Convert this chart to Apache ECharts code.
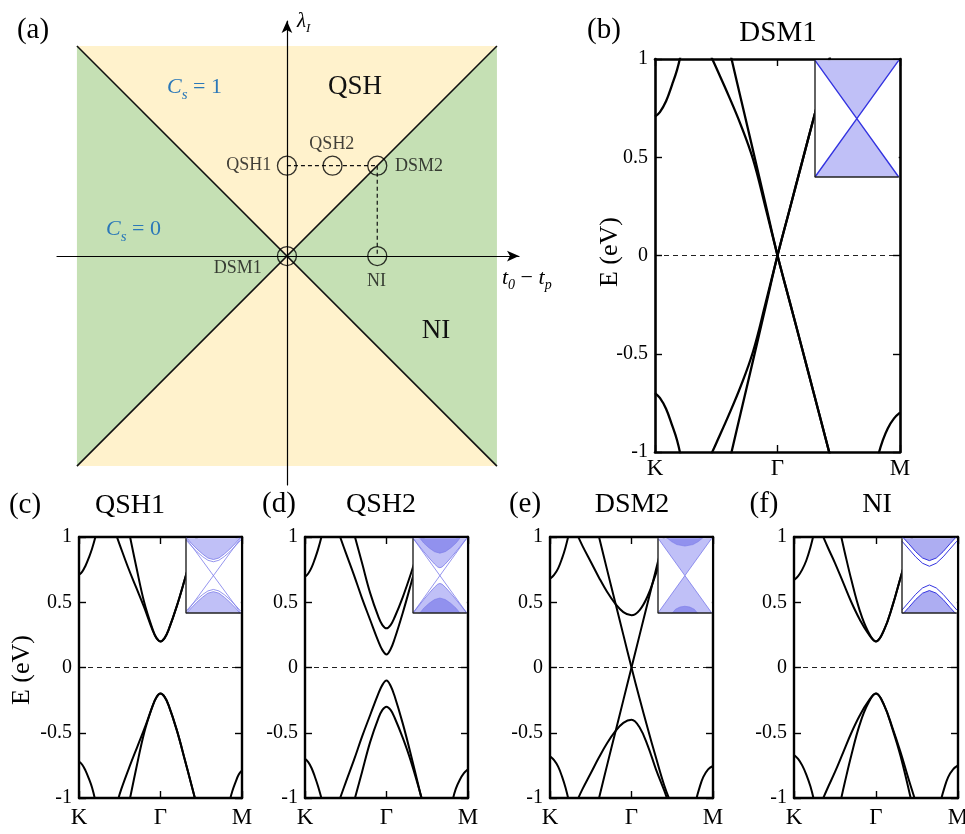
<!DOCTYPE html>
<html><head><meta charset="utf-8">
<script src="https://cdn.jsdelivr.net/npm/echarts@6/dist/echarts.min.js"></script>
<style>html,body{margin:0;padding:0;background:#fff}#chart{width:965px;height:834px}</style>
</head><body><div id="chart"></div>
<script>
const FONT = "'Liberation Serif','Times New Roman',Times,serif";

// ---------------- Panel (a): phase diagram data ----------------
const regionTop = [[-1, 1], [1, 1], [0, 0]];
const regionBottom = [[-1, -1], [1, -1], [0, 0]];
const regionLeft = [[-1, 1], [-1, -1], [0, 0]];
const regionRight = [[1, 1], [1, -1], [0, 0]];
const boundary1 = [[-1, 1], [1, -1]];
const boundary2 = [[-1, -1], [1, 1]];
const phaseNames = ['DSM1', 'QSH1', 'QSH2', 'DSM2', 'NI'];
const phaseU = [0, 0, 0.217, 0.43, 0.43];
const phaseV = [0, 0.43, 0.43, 0.43, 0];
const pathQSH = [[0, 0.43], [0.43, 0.43]];
const pathNI = [[0.43, 0.43], [0.43, 0]];

// ---------------- Band-structure axes ----------------
const kLabels = ['K', 'Γ', 'M'];
const eTickLabels = ['-1', '-0.5', '0', '0.5', '1'];

// (b) DSM1
const dsm1_kTop = [[0,0.707],[0.04,0.73],[0.09,0.785],[0.14,0.87],[0.18,0.945],[0.21,1.02]];
const dsm1_kBot = [[0,-0.70],[0.04,-0.725],[0.09,-0.78],[0.14,-0.865],[0.18,-0.94],[0.21,-1.02]];
const dsm1_mBot = [[1.82,-1.02],[1.86,-0.94],[1.9,-0.88],[1.95,-0.83],[2,-0.80]];
const dsm1_c1 = [[0.46,1.01],[0.5,0.955],[0.6,0.815],[0.7,0.665],[0.8,0.49],[0.9,0.25],[1,0],[1.1,-0.236],[1.2,-0.472],[1.3,-0.71],[1.43,-1.02]];
const dsm1_c2 = [[0.61,1.04],[0.7,0.8],[0.8,0.535],[0.9,0.268],[1,0],[1.1,-0.236],[1.2,-0.472],[1.3,-0.71],[1.43,-1.02]];
const dsm1_v1 = [[0.46,-1.01],[0.5,-0.955],[0.6,-0.815],[0.7,-0.665],[0.8,-0.49],[0.9,-0.25],[1,0],[1.1,0.237],[1.2,0.474],[1.3,0.71],[1.45,1.06]];
const dsm1_v2 = [[0.61,-1.04],[0.7,-0.8],[0.8,-0.535],[0.9,-0.268],[1,0],[1.1,0.237],[1.2,0.474],[1.3,0.71],[1.45,1.06]];
const dsm1_insetTop = [[-1,1],[0,0],[1,1]];
const dsm1_insetBot = [[-1,-1],[0,0],[1,-1]];

// (c) QSH1
const qsh1_kTop = [[0,0.71],[0.04,0.735],[0.08,0.78],[0.12,0.84],[0.16,0.91],[0.21,1.02]];
const qsh1_kBot = [[0,-0.72],[0.04,-0.745],[0.08,-0.79],[0.12,-0.85],[0.16,-0.92],[0.2,-1.02]];
const qsh1_mBot = [[1.85,-1.02],[1.88,-0.95],[1.92,-0.88],[1.96,-0.82],[2,-0.79]];
const qsh1_c1 = [[0.46,1.01],[0.5,0.94],[0.6,0.77],[0.7,0.615],[0.8,0.46],[0.9,0.29],[0.95,0.225],[1,0.2],[1.05,0.225],[1.1,0.29],[1.2,0.47],[1.3,0.68],[1.4,0.9],[1.46,1.03]];
const qsh1_c2 = [[0.62,1.02],[0.7,0.78],[0.8,0.5],[0.9,0.3],[0.95,0.228],[1,0.2],[1.05,0.225],[1.1,0.29],[1.2,0.47],[1.3,0.68],[1.4,0.9],[1.46,1.03]];
const qsh1_v1 = [[0.48,-1.01],[0.52,-0.93],[0.62,-0.76],[0.72,-0.6],[0.82,-0.44],[0.9,-0.3],[0.95,-0.23],[1,-0.2],[1.05,-0.225],[1.1,-0.29],[1.2,-0.48],[1.3,-0.71],[1.43,-1.02]];
const qsh1_v2 = [[0.62,-1.02],[0.7,-0.78],[0.8,-0.5],[0.9,-0.3],[0.95,-0.228],[1,-0.2],[1.05,-0.225],[1.1,-0.29],[1.2,-0.48],[1.3,-0.71],[1.43,-1.02]];
const qsh1_insetBulkTop = [[-1,1.03],[-0.8,0.86],[-0.6,0.71],[-0.4,0.58],[-0.2,0.47],[0,0.43],[0.2,0.47],[0.4,0.58],[0.6,0.71],[0.8,0.86],[1,1.03]];
const qsh1_insetBulkBot = [[-1,-1.03],[-0.8,-0.86],[-0.6,-0.71],[-0.4,-0.58],[-0.2,-0.47],[0,-0.43],[0.2,-0.47],[0.4,-0.58],[0.6,-0.71],[0.8,-0.86],[1,-1.03]];
const qsh1_insetEdgeTop = [[-1,0.95],[-0.8,0.79],[-0.6,0.64],[-0.4,0.51],[-0.2,0.41],[0,0.37],[0.2,0.41],[0.4,0.51],[0.6,0.64],[0.8,0.79],[1,0.95]];
const qsh1_insetEdgeBot = [[-1,-0.95],[-0.8,-0.79],[-0.6,-0.64],[-0.4,-0.51],[-0.2,-0.41],[0,-0.37],[0.2,-0.41],[0.4,-0.51],[0.6,-0.64],[0.8,-0.79],[1,-0.95]];
const insetCross1 = [[-1,1],[1,-1]];
const insetCross2 = [[-1,-1],[1,1]];

// (d) QSH2
const qsh2_kTop = [[0,0.695],[0.04,0.72],[0.08,0.765],[0.12,0.83],[0.16,0.905],[0.21,1.02]];
const qsh2_kBot = [[0,-0.70],[0.04,-0.725],[0.08,-0.77],[0.12,-0.835],[0.16,-0.91],[0.21,-1.02]];
const qsh2_mBot = [[1.81,-1.02],[1.85,-0.93],[1.9,-0.86],[1.95,-0.81],[2,-0.78]];
const qsh2_c1 = [[0.42,1.02],[0.5,0.88],[0.6,0.71],[0.7,0.53],[0.8,0.364],[0.9,0.2],[0.95,0.133],[1,0.1],[1.05,0.14],[1.1,0.22],[1.2,0.42],[1.3,0.64],[1.4,0.87],[1.5,1.08]];
const qsh2_c2 = [[0.6,1.03],[0.7,0.8],[0.8,0.57],[0.9,0.39],[0.95,0.325],[1,0.3],[1.05,0.325],[1.1,0.385],[1.2,0.54],[1.3,0.72],[1.4,0.92],[1.5,1.12]];
const qsh2_v1 = [[0.42,-1.02],[0.5,-0.88],[0.6,-0.71],[0.7,-0.53],[0.8,-0.364],[0.9,-0.2],[0.95,-0.133],[1,-0.1],[1.05,-0.14],[1.1,-0.22],[1.2,-0.43],[1.3,-0.67],[1.44,-1.03]];
const qsh2_v2 = [[0.6,-1.03],[0.7,-0.8],[0.8,-0.57],[0.9,-0.39],[0.95,-0.325],[1,-0.3],[1.05,-0.325],[1.1,-0.385],[1.2,-0.54],[1.3,-0.72],[1.44,-1.02]];
const qsh2_insetOuterTop = [[-1,1.0],[-0.8,0.82],[-0.6,0.64],[-0.4,0.47],[-0.2,0.31],[-0.08,0.23],[0,0.21],[0.08,0.23],[0.2,0.31],[0.4,0.47],[0.6,0.64],[0.8,0.82],[1,1.0]];
const qsh2_insetOuterBot = [[-1,-1.0],[-0.8,-0.82],[-0.6,-0.64],[-0.4,-0.47],[-0.2,-0.31],[-0.08,-0.23],[0,-0.21],[0.08,-0.23],[0.2,-0.31],[0.4,-0.47],[0.6,-0.64],[0.8,-0.82],[1,-1.0]];
const qsh2_insetInnerTop = [[-0.8,1.05],[-0.6,0.87],[-0.4,0.74],[-0.2,0.64],[0,0.6],[0.2,0.64],[0.4,0.74],[0.6,0.87],[0.8,1.05]];
const qsh2_insetInnerBot = [[-0.8,-1.05],[-0.6,-0.87],[-0.4,-0.74],[-0.2,-0.64],[0,-0.6],[0.2,-0.64],[0.4,-0.74],[0.6,-0.87],[0.8,-1.05]];

// (e) DSM2
const dsm2_kTop = [[0,0.68],[0.05,0.71],[0.1,0.76],[0.15,0.84],[0.19,0.92],[0.23,1.02]];
const dsm2_kBot = [[0,-0.68],[0.05,-0.71],[0.1,-0.76],[0.15,-0.84],[0.19,-0.92],[0.23,-1.02]];
const dsm2_mBot = [[1.79,-1.02],[1.83,-0.93],[1.88,-0.84],[1.94,-0.78],[2,-0.755]];
const dsm2_c = [[0.34,1.01],[0.4,0.93],[0.5,0.81],[0.6,0.69],[0.7,0.58],[0.8,0.49],[0.9,0.424],[1,0.4],[1.1,0.44],[1.2,0.55],[1.3,0.72],[1.4,0.9],[1.47,1.04]];
const dsm2_d1 = [[0.59,1.03],[0.7,0.75],[0.8,0.5],[0.9,0.25],[1,0],[1.1,-0.24],[1.2,-0.47],[1.3,-0.69],[1.4,-0.9],[1.49,-1.05]];
const dsm2_d2 = [[0.59,-1.03],[0.7,-0.75],[0.8,-0.5],[0.9,-0.25],[1,0],[1.1,0.25],[1.2,0.5],[1.3,0.75],[1.42,1.05]];
const dsm2_v = [[0.34,-1.01],[0.4,-0.93],[0.5,-0.81],[0.6,-0.69],[0.7,-0.58],[0.8,-0.49],[0.9,-0.424],[1,-0.4],[1.1,-0.46],[1.2,-0.6],[1.3,-0.78],[1.4,-0.94],[1.45,-1.03]];
const dsm2_insetOuterTop = [[-1,1],[0,0],[1,1]];
const dsm2_insetOuterBot = [[-1,-1],[0,0],[1,-1]];
const dsm2_insetInnerTop = [[-0.7,1.03],[-0.5,0.91],[-0.3,0.83],[0,0.79],[0.3,0.83],[0.5,0.91],[0.7,1.03]];
const dsm2_insetInnerBot = [[-0.5,-1.03],[-0.35,-0.9],[-0.18,-0.84],[0,-0.82],[0.18,-0.84],[0.35,-0.9],[0.5,-1.03]];

// (f) NI
const ni_kTop = [[0,0.67],[0.05,0.7],[0.1,0.75],[0.15,0.82],[0.2,0.92],[0.24,1.02]];
const ni_kBot = [[0,-0.67],[0.05,-0.7],[0.1,-0.75],[0.15,-0.82],[0.2,-0.91],[0.245,-1.02]];
const ni_mBot = [[1.79,-1.02],[1.83,-0.93],[1.88,-0.84],[1.94,-0.78],[2,-0.75]];
const ni_c1 = [[0.35,1.01],[0.42,0.91],[0.5,0.8],[0.6,0.65],[0.7,0.5],[0.8,0.37],[0.9,0.265],[1,0.2],[1.1,0.29],[1.2,0.47],[1.3,0.69],[1.4,0.91],[1.46,1.04]];
const ni_c2 = [[0.57,1.02],[0.62,0.88],[0.7,0.67],[0.8,0.44],[0.9,0.28],[1,0.2],[1.1,0.29],[1.2,0.47],[1.3,0.69],[1.4,0.91],[1.46,1.04]];
const ni_v1 = [[0.35,-1.01],[0.42,-0.91],[0.5,-0.8],[0.6,-0.65],[0.7,-0.5],[0.8,-0.37],[0.9,-0.265],[1,-0.2],[1.1,-0.29],[1.2,-0.47],[1.3,-0.68],[1.43,-1.02]];
const ni_v2 = [[0.57,-1.02],[0.62,-0.88],[0.7,-0.67],[0.8,-0.44],[0.9,-0.28],[1,-0.2],[1.1,-0.29],[1.2,-0.46],[1.3,-0.65],[1.4,-0.86],[1.48,-1.02]];
const ni_insetBulkTop = [[-1,1.05],[-0.75,0.85],[-0.5,0.64],[-0.25,0.47],[0,0.4],[0.25,0.47],[0.5,0.64],[0.75,0.85],[1,1.05]];
const ni_insetBulkBot = [[-1,-1.05],[-0.75,-0.85],[-0.5,-0.64],[-0.25,-0.47],[0,-0.4],[0.25,-0.47],[0.5,-0.64],[0.75,-0.85],[1,-1.05]];
const ni_insetEdgeTop = [[-1,0.92],[-0.75,0.71],[-0.5,0.5],[-0.25,0.33],[0,0.25],[0.25,0.33],[0.5,0.5],[0.75,0.71],[1,0.92]];
const ni_insetEdgeBot = [[-1,-0.92],[-0.75,-0.71],[-0.5,-0.5],[-0.25,-0.33],[0,-0.25],[0.25,-0.33],[0.5,-0.5],[0.75,-0.71],[1,-0.92]];

// ---------------- Styles ----------------
const YELLOW = '#fff2cc', GREEN = '#c5e0b4', BLUE_TXT = '#2b78b8';
const FILL_L = 'rgba(150,150,242,0.6)', FILL_D = 'rgba(105,105,232,0.55)', EDGE = '#3434e0', EDGE_L = '#7a7aea';

const grids = [], xAxes = [], yAxes = [], series = [], graphics = [];

// ---------------- Panel (a) ----------------
grids.push({left: 57, top: 21, width: 462, height: 464, outerBoundsMode: 'none'});
const arrowAxis = {show: true, onZero: true, symbol: ['none', 'arrow'], symbolSize: [8, 12], lineStyle: {color: '#000', width: 1.2}};
xAxes.push({gridIndex: 0, type: 'value', min: -1.095, max: 1.105, z: 5, axisLine: arrowAxis, axisTick: {show: false}, axisLabel: {show: false}, splitLine: {show: false}});
yAxes.push({gridIndex: 0, type: 'value', min: -1.09, max: 1.119, z: 5, axisLine: arrowAxis, axisTick: {show: false}, axisLabel: {show: false}, splitLine: {show: false}});
const phaseRegions = [regionTop, regionBottom, regionLeft, regionRight];
const phaseFills = [YELLOW, YELLOW, GREEN, GREEN];
series.push({
  type: 'custom', xAxisIndex: 0, yAxisIndex: 0, z: 1, silent: true, clip: false,
  data: phaseRegions.map(() => [0, 0]),
  renderItem: (params, api) => ({
    type: 'polygon',
    shape: {points: phaseRegions[params.dataIndex].map(p => api.coord(p))},
    style: {fill: phaseFills[params.dataIndex]}
  })
});
[boundary1, boundary2].forEach(d => series.push({type: 'line', xAxisIndex: 0, yAxisIndex: 0, data: d, symbol: 'none', z: 2, silent: true, lineStyle: {color: '#111', width: 1.6}}));
[pathQSH, pathNI].forEach(d => series.push({type: 'line', xAxisIndex: 0, yAxisIndex: 0, data: d, symbol: 'none', z: 3, silent: true, lineStyle: {color: '#111', width: 1.2, type: [4, 3]}}));
const phaseLabelPos = {DSM1: [-39, 22], QSH1: [-28, 9.5], QSH2: [9.5, -11], DSM2: [52, 10.5], NI: [9.5, 35]};
series.push({
  type: 'scatter', xAxisIndex: 0, yAxisIndex: 0, z: 4, silent: true, symbol: 'circle', symbolSize: 19,
  itemStyle: {color: 'rgba(0,0,0,0)', borderColor: '#000', borderWidth: 1.3},
  data: phaseNames.map((n, i) => ({
    name: n, value: [phaseU[i], phaseV[i]],
    label: {show: true, formatter: '{b}', position: phaseLabelPos[n], align: 'center', verticalAlign: 'middle', fontFamily: FONT, fontSize: 18, color: '#111'}
  }))
});
const richSub = (size, sub, color, pad) => ({
  m: {fontFamily: FONT, fontStyle: 'italic', fontSize: size, fill: color, lineHeight: size + 2, verticalAlign: 'top'},
  n: {fontFamily: FONT, fontSize: size, fill: color, lineHeight: size + 2, verticalAlign: 'top'},
  s: {fontFamily: FONT, fontStyle: 'italic', fontSize: sub, fill: color, lineHeight: sub, padding: [pad, 0, 0, 0], verticalAlign: 'top'}
});
graphics.push(
  {type: 'text', z: 100, x: 33, y: 30, style: {text: '(a)', fontFamily: FONT, fontSize: 29, fill: '#000', align: 'center', verticalAlign: 'middle'}},
  {type: 'text', z: 100, x: 355, y: 87, style: {text: 'QSH', fontFamily: FONT, fontSize: 27, fill: '#111', align: 'center', verticalAlign: 'middle'}},
  {type: 'text', z: 100, x: 436, y: 331, style: {text: 'NI', fontFamily: FONT, fontSize: 27, fill: '#111', align: 'center', verticalAlign: 'middle'}},
  {type: 'text', z: 100, x: 167, y: 76, style: {text: '{m|C}{s|s}{n| = 1}', align: 'left', verticalAlign: 'top', rich: richSub(22, 15, BLUE_TXT, 12)}},
  {type: 'text', z: 100, x: 106, y: 218, style: {text: '{m|C}{s|s}{n| = 0}', align: 'left', verticalAlign: 'top', rich: richSub(22, 15, BLUE_TXT, 12)}},
  {type: 'text', z: 100, x: 297, y: 11, style: {text: '{m|λ}{s|I}', align: 'left', verticalAlign: 'top', rich: richSub(21, 13, '#000', 11)}},
  {type: 'text', z: 100, x: 502, y: 267, style: {text: '{m|t}{s|0}{n| − }{m|t}{s|p}', align: 'left', verticalAlign: 'top', rich: richSub(22, 14, '#000', 11)}}
);

// ---------------- Band panels ----------------
const bandPanels = [
  {label: '(b)', labelPos: [604, 30], title: 'DSM1', titlePos: [778, 33], titleSize: 29, box: [655, 59, 900, 452], inset: [815, 177], ylab: [610, 252],
   tSize: 20, kSize: 23, tMargin: 7, kMargin: 5, lw: 2.3, border: 2.6,
   bands: [dsm1_kTop, dsm1_kBot, dsm1_mBot, dsm1_c1, dsm1_c2, dsm1_v1, dsm1_v2],
   layers: [{d: dsm1_insetTop, o: 'end', f: FILL_L, c: EDGE, w: 1.4}, {d: dsm1_insetBot, o: 'start', f: FILL_L, c: EDGE, w: 1.4}]},
  {label: '(c)', labelPos: [25, 505], title: 'QSH1', titlePos: [130, 506], titleSize: 28, box: [79, 537, 242, 798], inset: [186, 613], ylab: [22, 670],
   tSize: 20, kSize: 23, tMargin: 7, kMargin: 8, lw: 2.0, border: 2.4,
   bands: [qsh1_kTop, qsh1_kBot, qsh1_mBot, qsh1_c1, qsh1_c2, qsh1_v1, qsh1_v2],
   layers: [{d: qsh1_insetBulkTop, o: 'end', f: FILL_L, c: EDGE_L, w: 0.8}, {d: qsh1_insetBulkBot, o: 'start', f: FILL_L, c: EDGE_L, w: 0.8},
            {d: insetCross1, c: EDGE_L, w: 0.8}, {d: insetCross2, c: EDGE_L, w: 0.8}, {d: qsh1_insetEdgeTop, c: EDGE_L, w: 0.8}, {d: qsh1_insetEdgeBot, c: EDGE_L, w: 0.8}]},
  {label: '(d)', labelPos: [279, 504], title: 'QSH2', titlePos: [381, 505], titleSize: 28, box: [305, 537, 468, 798], inset: [413, 613],
   tSize: 20, kSize: 23, tMargin: 7, kMargin: 8, lw: 2.0, border: 2.4,
   bands: [qsh2_kTop, qsh2_kBot, qsh2_mBot, qsh2_c1, qsh2_c2, qsh2_v1, qsh2_v2],
   layers: [{d: qsh2_insetOuterTop, o: 'end', f: FILL_L, c: EDGE_L, w: 0.8}, {d: qsh2_insetOuterBot, o: 'start', f: FILL_L, c: EDGE_L, w: 0.8},
            {d: qsh2_insetInnerTop, o: 'end', f: FILL_D, c: EDGE_L, w: 0.6}, {d: qsh2_insetInnerBot, o: 'start', f: FILL_D, c: EDGE_L, w: 0.6},
            {d: insetCross1, c: EDGE_L, w: 0.8}, {d: insetCross2, c: EDGE_L, w: 0.8}]},
  {label: '(e)', labelPos: [525, 504], title: 'DSM2', titlePos: [632, 505], titleSize: 28, box: [550, 537, 713, 798], inset: [658, 613],
   tSize: 20, kSize: 23, tMargin: 7, kMargin: 8, lw: 2.0, border: 2.4,
   bands: [dsm2_kTop, dsm2_kBot, dsm2_mBot, dsm2_c, dsm2_d1, dsm2_d2, dsm2_v],
   layers: [{d: dsm2_insetOuterTop, o: 'end', f: FILL_L, c: EDGE_L, w: 0.8}, {d: dsm2_insetOuterBot, o: 'start', f: FILL_L, c: EDGE_L, w: 0.8},
            {d: dsm2_insetInnerTop, o: 'end', f: FILL_D, c: EDGE_L, w: 0.6}, {d: dsm2_insetInnerBot, o: 'start', f: FILL_D, c: EDGE_L, w: 0.6}]},
  {label: '(f)', labelPos: [764, 504], title: 'NI', titlePos: [877, 505], titleSize: 28, box: [794, 537, 958, 798], inset: [902, 613],
   tSize: 20, kSize: 23, tMargin: 7, kMargin: 8, lw: 2.0, border: 2.4,
   bands: [ni_kTop, ni_kBot, ni_mBot, ni_c1, ni_c2, ni_v1, ni_v2],
   layers: [{d: ni_insetBulkTop, o: 'end', f: FILL_D, c: EDGE, w: 1.0}, {d: ni_insetBulkBot, o: 'start', f: FILL_D, c: EDGE, w: 1.0},
            {d: ni_insetEdgeTop, c: EDGE, w: 1.0}, {d: ni_insetEdgeBot, c: EDGE, w: 1.0}]}
];

bandPanels.forEach(p => {
  const [x0, y0, x1, y1] = p.box;
  const g = grids.length;
  grids.push({left: x0, top: y0, width: x1 - x0, height: y1 - y0, outerBoundsMode: 'none'});
  const line = {show: true, onZero: false, lineStyle: {color: '#000', width: p.border}};
  const tick = {show: true, inside: true, length: 7, lineStyle: {color: '#000', width: 1.4}};
  const xb = xAxes.length;
  xAxes.push({gridIndex: g, type: 'value', min: 0, max: 2, interval: 1, position: 'bottom', z: 3, axisLine: line, axisTick: tick,
    axisLabel: {show: true, formatter: v => kLabels[Math.round(v)], fontFamily: FONT, fontSize: p.kSize, color: '#000', margin: p.kMargin}, splitLine: {show: false}});
  xAxes.push({gridIndex: g, type: 'value', min: 0, max: 2, interval: 1, position: 'top', z: 3, axisLine: line, axisTick: tick, axisLabel: {show: false}, splitLine: {show: false}});
  const yl = yAxes.length;
  yAxes.push({gridIndex: g, type: 'value', min: -1, max: 1, interval: 0.5, position: 'left', z: 3, axisLine: line, axisTick: tick,
    axisLabel: {show: true, formatter: v => eTickLabels[Math.round((v + 1) * 2)], fontFamily: FONT, fontSize: p.tSize, color: '#000', margin: p.tMargin}, splitLine: {show: false}});
  yAxes.push({gridIndex: g, type: 'value', min: -1, max: 1, interval: 0.5, position: 'right', z: 3, axisLine: line, axisTick: tick, axisLabel: {show: false}, splitLine: {show: false}});

  series.push({type: 'line', xAxisIndex: xb, yAxisIndex: yl, data: [[0, 0], [2, 0]], symbol: 'none', silent: true, z: 2,
    lineStyle: {color: '#222', width: 1.2, type: [5, 4]}});
  p.bands.forEach(d => series.push({type: 'line', xAxisIndex: xb, yAxisIndex: yl, data: d, symbol: 'none', showSymbol: false, silent: true, z: 2,
    smooth: 0.4, lineStyle: {color: '#000', width: p.lw, join: 'round'}}));

  // inset
  const gi = grids.length;
  const it = y0 + p.border / 2, ir = x1 - p.border / 2;
  grids.push({left: p.inset[0], top: it, width: ir - p.inset[0], height: p.inset[1] - it, outerBoundsMode: 'none'});
  const xi = xAxes.length, yi = yAxes.length;
  xAxes.push({gridIndex: gi, type: 'value', min: -1, max: 1, show: false});
  yAxes.push({gridIndex: gi, type: 'value', min: -1, max: 1, show: false});
  series.push({type: 'line', xAxisIndex: xi, yAxisIndex: yi, data: [[-1, 1], [1, 1]], symbol: 'none', silent: true, z: 4,
    lineStyle: {opacity: 0}, areaStyle: {color: '#fff', opacity: 1, origin: 'start'}});
  p.layers.forEach(L => {
    const s = {type: 'line', xAxisIndex: xi, yAxisIndex: yi, data: L.d, symbol: 'none', silent: true, z: L.o ? 5 : 6,
      lineStyle: {color: L.c, width: L.w}};
    if (L.o) s.areaStyle = {color: L.f, opacity: 1, origin: L.o};
    series.push(s);
  });
  series.push({type: 'line', xAxisIndex: xi, yAxisIndex: yi, data: [[-1, 1], [-1, -1], [1, -1]], symbol: 'none', silent: true, z: 7, clip: false,
    lineStyle: {color: '#222', width: 1.4}});

  graphics.push({type: 'text', z: 100, x: p.labelPos[0], y: p.labelPos[1], style: {text: p.label, fontFamily: FONT, fontSize: 29, fill: '#000', align: 'center', verticalAlign: 'middle'}});
  graphics.push({type: 'text', z: 100, x: p.titlePos[0], y: p.titlePos[1], style: {text: p.title, fontFamily: FONT, fontSize: p.titleSize, fill: '#000', align: 'center', verticalAlign: 'middle'}});
  if (p.ylab) graphics.push({type: 'text', z: 100, x: p.ylab[0], y: p.ylab[1], rotation: Math.PI / 2,
    style: {text: 'E (eV)', fontFamily: FONT, fontSize: 26, fill: '#000', align: 'center', verticalAlign: 'middle'}});
});

const chart = echarts.init(document.getElementById('chart'));
chart.setOption({
  animation: false,
  backgroundColor: '#fff',
  grid: grids, xAxis: xAxes, yAxis: yAxes, series: series,
  graphic: {elements: graphics}
});
</script>
</body></html>
